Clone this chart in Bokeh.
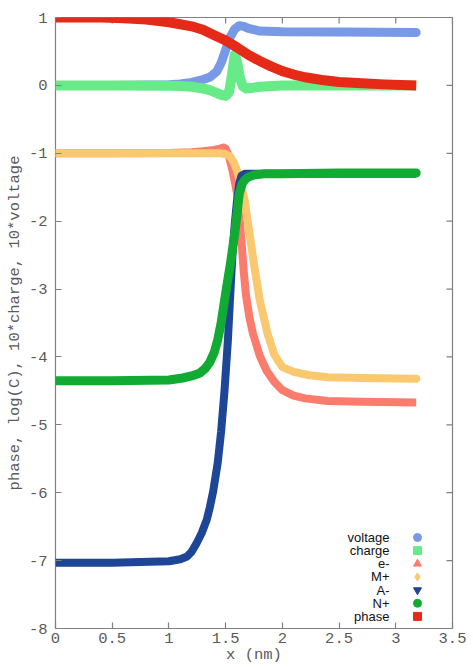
import math
from bokeh.plotting import figure
from bokeh.models import Range1d, FixedTicker, ColumnDataSource
from bokeh.core.properties import value
from bokeh.embed import file_html
from bokeh.resources import INLINE

# ---------------- data ----------------
voltage_x = [0, 0.5, 1.0, 1.1, 1.2, 1.3, 1.36, 1.42, 1.46, 1.5, 1.54, 1.58, 1.62, 1.66, 1.7, 1.8, 2.0, 2.5, 3.18]
voltage_y = [0, 0, 0.008, 0.02, 0.045, 0.085, 0.12, 0.2, 0.33, 0.52, 0.71, 0.83, 0.88, 0.87, 0.84, 0.8, 0.79, 0.785, 0.78]

charge_x = [0, 0.5, 1.0, 1.1, 1.2, 1.3, 1.36, 1.42, 1.46, 1.5, 1.53, 1.555, 1.58, 1.6, 1.625, 1.65, 1.68, 1.72, 1.8, 2.0, 2.5, 3.18]
charge_y = [0, 0, -0.005, -0.01, -0.02, -0.045, -0.07, -0.11, -0.14, -0.155, -0.1, 0.15, 0.45, 0.35, 0.12, -0.01, -0.045, -0.04, -0.02, 0.0, 0.0, 0.0]

eminus_x = [0, 0.5, 1.0, 1.2, 1.3, 1.4, 1.45, 1.48, 1.5, 1.53, 1.56, 1.59, 1.61, 1.64, 1.66, 1.68, 1.71, 1.74, 1.8, 1.86, 1.93, 2.0, 2.1, 2.2, 2.4, 2.7, 3.18]
eminus_y = [-1, -1, -0.995, -0.985, -0.97, -0.95, -0.93, -0.915, -0.93, -1.05, -1.25, -1.5, -1.69, -2.3, -2.75, -3.1, -3.42, -3.65, -3.98, -4.2, -4.37, -4.49, -4.57, -4.61, -4.65, -4.66, -4.67]

mplus_x = [0, 0.5, 1.0, 1.3, 1.45, 1.5, 1.54, 1.57, 1.6, 1.63, 1.667, 1.71, 1.754, 1.8, 1.868, 1.93, 2.0, 2.1, 2.24, 2.4, 2.7, 3.18]
mplus_y = [-1, -1, -1, -1, -1.0, -1.01, -1.05, -1.13, -1.25, -1.42, -1.69, -2.18, -2.68, -3.16, -3.65, -3.97, -4.15, -4.22, -4.27, -4.3, -4.31, -4.32]

aminus_x = [0, 0.5, 1.0, 1.1, 1.16, 1.2, 1.245, 1.29, 1.333, 1.36, 1.39, 1.43, 1.46, 1.49, 1.52, 1.54, 1.56, 1.58, 1.6, 1.62, 1.64, 1.67, 1.75, 2.0, 2.5, 3.18]
aminus_y = [-7.03, -7.03, -7.01, -6.98, -6.94, -6.87, -6.74, -6.59, -6.4, -6.22, -5.98, -5.56, -5.1, -4.5, -3.75, -3.1, -2.5, -2.05, -1.7, -1.45, -1.33, -1.3, -1.3, -1.3, -1.3, -1.3]

nplus_x = [0, 0.5, 1.0, 1.12, 1.2, 1.27, 1.32, 1.36, 1.4, 1.43, 1.46, 1.49, 1.52, 1.54, 1.56, 1.58, 1.6, 1.62, 1.645, 1.67, 1.7, 1.75, 1.85, 2.0, 2.5, 3.18]
nplus_y = [-4.35, -4.35, -4.34, -4.31, -4.28, -4.24, -4.17, -4.08, -3.93, -3.75, -3.5, -3.17, -2.85, -2.65, -2.42, -2.18, -1.9, -1.6, -1.45, -1.39, -1.35, -1.32, -1.3, -1.3, -1.29, -1.29]

phase_x = [0, 0.4, 0.6, 0.8, 1.0, 1.1, 1.2, 1.3, 1.4, 1.5, 1.6, 1.7, 1.8, 1.9, 2.0, 2.1, 2.2, 2.35, 2.5, 2.7, 2.9, 3.18]
phase_y = [1.0, 1.0, 0.99, 0.97, 0.93, 0.9, 0.87, 0.82, 0.74, 0.66, 0.56, 0.45, 0.36, 0.28, 0.21, 0.16, 0.12, 0.08, 0.05, 0.03, 0.015, 0.0]

series_names = ["voltage", "charge", "e-", "M+", "A-", "N+", "phase"]
series_colors = ["#7799e6", "#66eb88", "#fb7c6d", "#fac86e", "#1e4696", "#11aa33", "#e62a18"]
series_markers = ["circle", "square", "triangle", "diamond", "inverted_triangle", "circle", "square"]

x_ticks = [0, 0.5, 1, 1.5, 2, 2.5, 3, 3.5]
x_tick_labels = ["0", "0.5", "1", "1.5", "2", "2.5", "3", "3.5"]
y_ticks = [-8, -7, -6, -5, -4, -3, -2, -1, 0, 1]
y_tick_labels = ["-8", "-7", "-6", "-5", "-4", "-3", "-2", "-1", "0", "1"]

x_label = "x (nm)"
y_label = "phase, log(C), 10*charge, 10*voltage"

# ---------------- figure ----------------
MONO = "Liberation Mono"
GRAY_TXT = "#5a5a5a"
GRAY_LN = "#808080"

FL, FR, FT, FB = 55, 452, 17, 628   # frame edges in page pixels
W, H = 473, 667
X0, X1, Y0, Y1 = 0, 3.5, -8, 1

p = figure(width=W, height=H, x_range=Range1d(X0, X1), y_range=Range1d(Y0, Y1),
           output_backend="svg", toolbar_location=None,
           min_border_left=FL, min_border_right=W - FR, min_border_top=FT, min_border_bottom=H - FB)
p.grid.visible = False
p.outline_line_color = GRAY_LN
p.outline_line_width = 1.2
p.background_fill_color = "white"
p.border_fill_color = "white"

def style_axis(ax, ticks, labels):
    ax.ticker = FixedTicker(ticks=ticks)
    ax.major_label_overrides = {t: l for t, l in zip(ticks, labels)}
    ax.major_tick_in = 6
    ax.major_tick_out = 0
    ax.minor_tick_line_color = None
    ax.major_tick_line_color = GRAY_LN
    ax.major_tick_line_width = 1.2
    ax.axis_line_color = None
    ax.major_label_text_font = MONO
    ax.major_label_text_color = GRAY_TXT
    ax.major_label_text_font_size = "15.5px"
    ax.axis_label_text_font = MONO
    ax.axis_label_text_font_size = "15.5px"
    ax.axis_label_text_font_style = "normal"
    ax.axis_label_text_color = GRAY_TXT

xa = p.xaxis[0]
ya = p.yaxis[0]
style_axis(xa, x_ticks, x_tick_labels)
style_axis(ya, y_ticks, y_tick_labels)
xa.major_label_standoff = 4
xa.axis_label = x_label
xa.axis_label_standoff = 0
ya.major_label_standoff = 8
ya.axis_label = y_label
ya.axis_label_standoff = 2

px_per_x = (FR - FL) / (X1 - X0)
px_per_y = (FB - FT) / (Y1 - Y0)

# mirrored tick marks on the top and right edges (inward, 6 px)
tick_len_x = 6 / px_per_x
tick_len_y = 6 / px_per_y
p.segment(x0=x_ticks, y0=[Y1] * len(x_ticks), x1=x_ticks, y1=[Y1 - tick_len_y] * len(x_ticks),
          line_color=GRAY_LN, line_width=1.2)
p.segment(x0=[X1] * len(y_ticks), y0=y_ticks, x1=[X1 - tick_len_x] * len(y_ticks), y1=y_ticks,
          line_color=GRAY_LN, line_width=1.2)

# ---------------- curves ----------------
curves = [
    (voltage_x, voltage_y, 9, "round"),
    (charge_x, charge_y, 10, "butt"),
    (eminus_x, eminus_y, 8, "butt"),
    (mplus_x, mplus_y, 8, "round"),
    (aminus_x, aminus_y, 8, "butt"),
    (nplus_x, nplus_y, 9, "round"),
    (phase_x, phase_y, 10, "butt"),
]
for (xs, ys, w, cap), col in zip(curves, series_colors):
    p.line(xs, ys, line_color=col, line_width=w, line_join="round", line_cap=cap)

# ---------------- legend (text right-aligned, marker to the right) ----------------
leg_text_x = X0 + (389 - FL) / px_per_x
leg_mark_x = X0 + (417 - FL) / px_per_x
leg_y0 = Y1 - (537 - FT) / px_per_y
leg_dy = 13.15 / px_per_y
n = len(series_names)
leg_src = ColumnDataSource(dict(
    tx=[leg_text_x] * n,
    mx=[leg_mark_x] * n,
    y=[leg_y0 - i * leg_dy for i in range(n)],
    name=series_names,
    color=series_colors,
    marker=series_markers,
))
p.text(x="tx", y="y", text="name", source=leg_src, text_align="right", text_baseline="middle",
       text_font=value("Liberation Sans"), text_font_size="13px", text_color="#111111")
p.scatter(x="mx", y="y", marker="marker", color="color", size=8, source=leg_src)

open("out.html", "w").write(file_html(p, INLINE))
